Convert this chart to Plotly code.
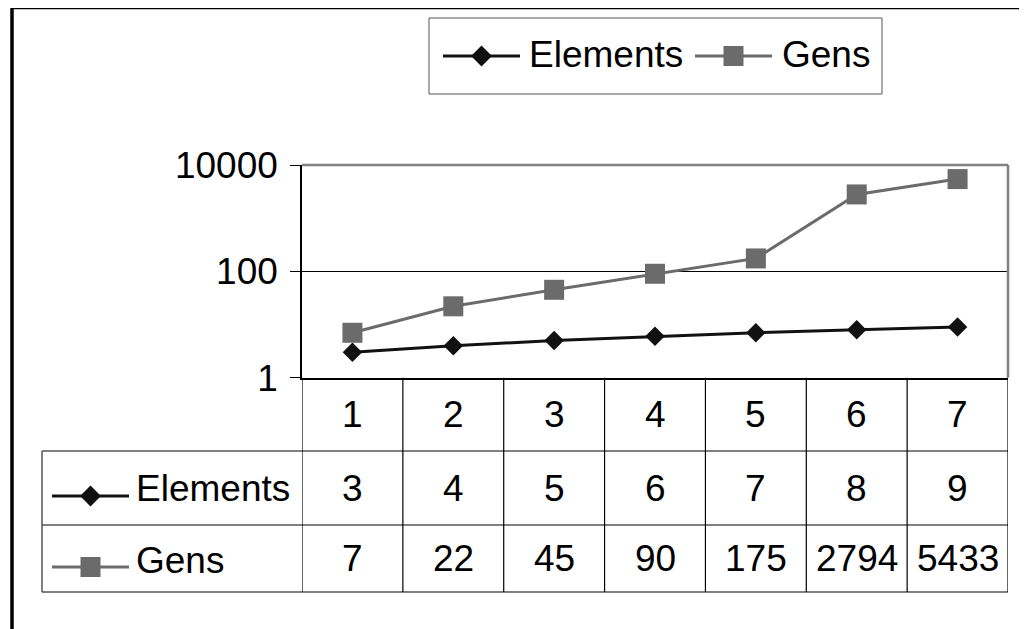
import plotly.graph_objects as go

W, H = 1027, 629

categories = [1, 2, 3, 4, 5, 6, 7]
series_names = ["Elements", "Gens"]
elements = [3, 4, 5, 6, 7, 8, 9]
gens = [7, 22, 45, 90, 175, 2794, 5433]
y_tick_vals = [1, 100, 10000]
y_tick_text = ["1", "100", "10000"]

FONT = "Liberation Sans, Arial, sans-serif"
FS = 37
BLACK = "#000000"
DARK = "#111111"
GRAY = "#6b6b6b"

# page offset of the figure (body margin) compensated in pixel helpers
OX, OY = 8, 8


def px(x):
    return (x - OX) / W


def py(y):
    return 1 - (y - OY) / H


# plot area (pixels)
PL, PR, PT, PB = 302, 1008, 165, 377.7
# table rows (pixels)
ROW1, ROW2, ROW3 = 451, 525, 592
TL = 42

fig = go.Figure()

fig.add_trace(go.Scatter(
    x=categories, y=elements, name=series_names[0], mode="lines+markers",
    line=dict(color=DARK, width=3),
    marker=dict(symbol="diamond", size=15, color=DARK),
    showlegend=False, cliponaxis=False))
fig.add_trace(go.Scatter(
    x=categories, y=gens, name=series_names[1], mode="lines+markers",
    line=dict(color=GRAY, width=3),
    marker=dict(symbol="square", size=20, color=GRAY),
    showlegend=False, cliponaxis=False))

# legend keys (top legend and table) drawn on a separate pixel axis
key_specs = [
    # (x_line_start, x_line_end, y, symbol, color, size)
    (443, 520, 56, "diamond", DARK, 16),
    (695, 772, 56, "square", GRAY, 20),
    (52, 129, 496, "diamond", DARK, 16),
    (52, 129, 567, "square", GRAY, 20),
]
shapes = []
for x0, x1, yk, sym, col, sz in key_specs:
    shapes.append(dict(type="line", xref="paper", yref="paper",
                       x0=px(x0), x1=px(x1), y0=py(yk), y1=py(yk),
                       line=dict(color=col, width=3), layer="above"))
    fig.add_trace(go.Scatter(
        x=[(x0 + x1) / 2 - OX], y=[yk - OY], xaxis="x2", yaxis="y2",
        mode="markers", marker=dict(symbol=sym, size=sz, color=col),
        showlegend=False, hoverinfo="skip", cliponaxis=False))

# legend box
shapes.append(dict(type="rect", xref="paper", yref="paper",
                   x0=px(429), x1=px(882), y0=py(18), y1=py(94),
                   line=dict(color="#555555", width=1)))

# plot area gray border (top, right)
shapes.append(dict(type="line", xref="paper", yref="paper",
                   x0=px(PL), x1=px(PR), y0=py(PT), y1=py(PT),
                   line=dict(color="#808080", width=2.5)))
shapes.append(dict(type="line", xref="paper", yref="paper",
                   x0=px(PR), x1=px(PR), y0=py(PT), y1=py(PB),
                   line=dict(color="#808080", width=2.5)))

# table vertical lines at category boundaries
for i in range(len(categories) + 1):
    shapes.append(dict(type="line", xref="x", yref="paper",
                       x0=categories[0] - 0.5 + i, x1=categories[0] - 0.5 + i,
                       y0=py(PB), y1=py(ROW3),
                       line=dict(color=BLACK, width=1.2)))
# table horizontal lines
for yr in (ROW1, ROW2, ROW3):
    shapes.append(dict(type="line", xref="paper", yref="paper",
                       x0=px(TL), x1=px(PR), y0=py(yr), y1=py(yr),
                       line=dict(color=BLACK, width=1.2)))
shapes.append(dict(type="line", xref="paper", yref="paper",
                   x0=px(TL), x1=px(TL), y0=py(ROW1), y1=py(ROW3),
                   line=dict(color="#555555", width=1.5)))

# outer chart border (top & left visible)
shapes.append(dict(type="line", xref="paper", yref="paper",
                   x0=px(12), x1=1.02, y0=py(7.5), y1=py(7.5),
                   line=dict(color=BLACK, width=3.5)))
shapes.append(dict(type="line", xref="paper", yref="paper",
                   x0=px(12), x1=px(12), y0=py(7.5), y1=-0.02,
                   line=dict(color=BLACK, width=3.5)))

annotations = []
font = dict(family=FONT, size=FS, color=BLACK)
# legend labels
annotations.append(dict(text=series_names[0], xref="paper", yref="paper",
                        x=px(527), y=py(54), xanchor="left", yanchor="middle",
                        showarrow=False, font=font))
annotations.append(dict(text=series_names[1], xref="paper", yref="paper",
                        x=px(780), y=py(54), xanchor="left", yanchor="middle",
                        showarrow=False, font=font))
# table row labels
annotations.append(dict(text=series_names[0], xref="paper", yref="paper",
                        x=px(134), y=py(489), xanchor="left", yanchor="middle",
                        showarrow=False, font=font))
annotations.append(dict(text=series_names[1], xref="paper", yref="paper",
                        x=px(134), y=py(560), xanchor="left", yanchor="middle",
                        showarrow=False, font=font))
# table cells
row_centers = [(PB + ROW1) / 2, (ROW1 + ROW2) / 2, (ROW2 + ROW3) / 2]
for row_vals, yc in zip([categories, elements, gens], row_centers):
    for c, v in zip(categories, row_vals):
        annotations.append(dict(text=str(v), xref="x", yref="paper",
                                x=c, y=py(yc), xanchor="center", yanchor="middle",
                                showarrow=False, font=font))

fig.update_layout(
    template="none",
    width=W, height=H,
    margin=dict(l=0, r=0, t=0, b=0, pad=0, autoexpand=False),
    paper_bgcolor="white", plot_bgcolor="rgba(0,0,0,0)",
    font=font,
    showlegend=False,
    xaxis=dict(domain=[px(PL), px(PR)], range=[0.5, 7.5], automargin=False,
               showticklabels=False, showgrid=False, zeroline=False,
               showline=True, linecolor=BLACK, linewidth=1.5, ticks=""),
    yaxis=dict(domain=[py(PB), py(PT)], type="log", range=[0, 4],
               automargin=False,
               tickvals=y_tick_vals, ticktext=y_tick_text,
               ticks="outside", ticklen=10, tickcolor=BLACK, tickwidth=1,
               showgrid=True, gridcolor=BLACK, gridwidth=1,
               showline=True, linecolor=BLACK, linewidth=1.5,
               zeroline=False, ticklabelstandoff=5,
               tickfont=font),
    xaxis2=dict(domain=[0, 1], range=[0, W], visible=False, anchor="y2",
                automargin=False, fixedrange=True),
    yaxis2=dict(domain=[0, 1], range=[H, 0], visible=False, anchor="x2",
                automargin=False, fixedrange=True),
    shapes=shapes,
    annotations=annotations,
)

fig.write_html("out.html")
